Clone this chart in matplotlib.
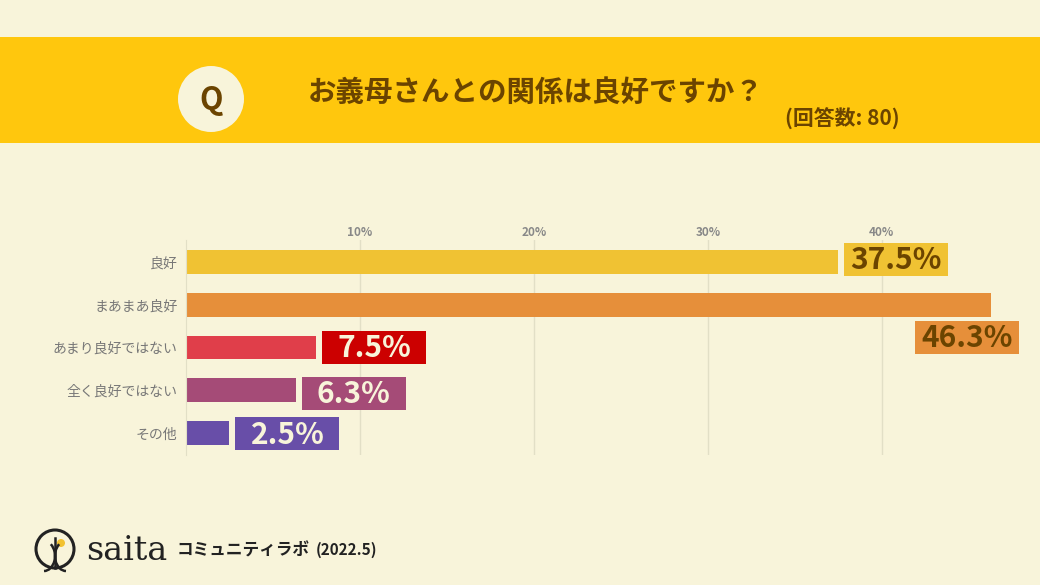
import matplotlib.pyplot as plt
from matplotlib.patches import Circle, Rectangle, Arc

plt.rcParams['font.family'] = ['Noto Sans CJK JP', 'DejaVu Sans']

categories = ["良好", "まあまあ良好", "あまり良好ではない", "全く良好ではない", "その他"]
values = [37.5, 46.3, 7.5, 6.3, 2.5]
labels = ["37.5%", "46.3%", "7.5%", "6.3%", "2.5%"]
bar_colors = ["#F0C233", "#E68F3A", "#E03E4A", "#A54B77", "#684EA8"]
box_colors = ["#F0C233", "#E68F3A", "#CC0000", "#A54B77", "#684EA8"]
text_colors = ["#6B4400", "#6B4400", "#F8F4DA", "#F8F4DA", "#F8F4DA"]
xticks = [10, 20, 30, 40]
xtick_labels = ["10%", "20%", "30%", "40%"]

bg_color = "#F8F4DA"
band_color = "#FFC70D"
brown = "#6B4400"

fig = plt.figure(figsize=(10.4, 5.85), dpi=100)
fig.patch.set_facecolor(bg_color)

# decoration layer in pixel coordinates
deco = fig.add_axes([0, 0, 1, 1])
deco.set_xlim(0, 1040)
deco.set_ylim(585, 0)
deco.axis("off")
deco.add_patch(Rectangle((0, 37), 1040, 106, color=band_color, lw=0))
deco.add_patch(Circle((211, 99), 33, color=bg_color, lw=0))
deco.text(211, 100, "Q", ha="center", va="center", fontsize=22, fontweight="bold", color=brown)
deco.text(308, 93, "お義母さんとの関係は良好ですか？", ha="left", va="center",
          fontsize=20.5, fontweight="bold", color=brown)
deco.text(900, 119, "(回答数: 80)", ha="right", va="center",
          fontsize=15, fontweight="bold", color=brown)

# footer logo
deco.add_patch(Circle((55, 549), 19, fill=False, ec="#222222", lw=2.2))
deco.add_patch(Circle((61, 543), 4, color="#F2C230", lw=0))
deco.add_patch(Arc((44, 556), 22, 30, theta1=300, theta2=90, ec="#222222", lw=1.8))
deco.add_patch(Arc((66, 556), 22, 30, theta1=90, theta2=240, ec="#222222", lw=1.8))
deco.plot([55, 55], [538, 568], color="#222222", lw=1.8)
deco.text(86, 551, "saita", ha="left", va="center", fontsize=24,
          family=["DejaVu Serif"], color="#222222")
deco.text(177, 551, "コミュニティラボ", ha="left", va="center", fontsize=12,
          fontweight="bold", color="#222222")
deco.text(316, 550, "(2022.5)", ha="left", va="center", fontsize=11,
          fontweight="bold", color="#222222")

# chart
ax = fig.add_axes([186 / 1040, 130 / 585, 835 / 1040, 215 / 585])
ax.set_facecolor("none")
ax.set_xlim(0, 48)
ax.set_ylim(4.515, -0.515)
ypos = list(range(len(categories)))

ax.barh(ypos, values, height=0.56, color=bar_colors, zorder=2)

px = 835 / 48  # pixels per percent
box_w = 104 / px
for i, (v, lab) in enumerate(zip(values, labels)):
    if v + 0.35 + box_w > 48:
        left = v + 28 / px - box_w
        yc = i + 0.76
    else:
        left = v + 6 / px
        yc = i + {0: -0.06, 3: 0.07, 4: 0.02}.get(i, 0)
    ax.barh(yc, box_w, left=left, height=0.77, color=box_colors[i], zorder=3)
    ax.text(left + box_w / 2, yc + 0.02, lab, ha="center", va="center",
            fontsize=21.5, fontweight="bold", color=text_colors[i], zorder=4)

ax.xaxis.tick_top()
ax.set_xticks(xticks)
ax.set_xticklabels(xtick_labels, fontsize=8.5, fontweight="bold", color="#888888")
ax.tick_params(axis="x", length=0, pad=1)
ax.set_yticks(ypos)
ax.set_yticklabels(categories, fontsize=10, color="#777777")
ax.tick_params(axis="y", length=0, pad=6)
ax.grid(axis="x", color="#E2DFC6", lw=1, zorder=1)
for side in ["top", "right", "bottom"]:
    ax.spines[side].set_visible(False)
ax.spines["left"].set_color("#E2DFC6")

fig.savefig("out.png", dpi=100, facecolor=bg_color)
